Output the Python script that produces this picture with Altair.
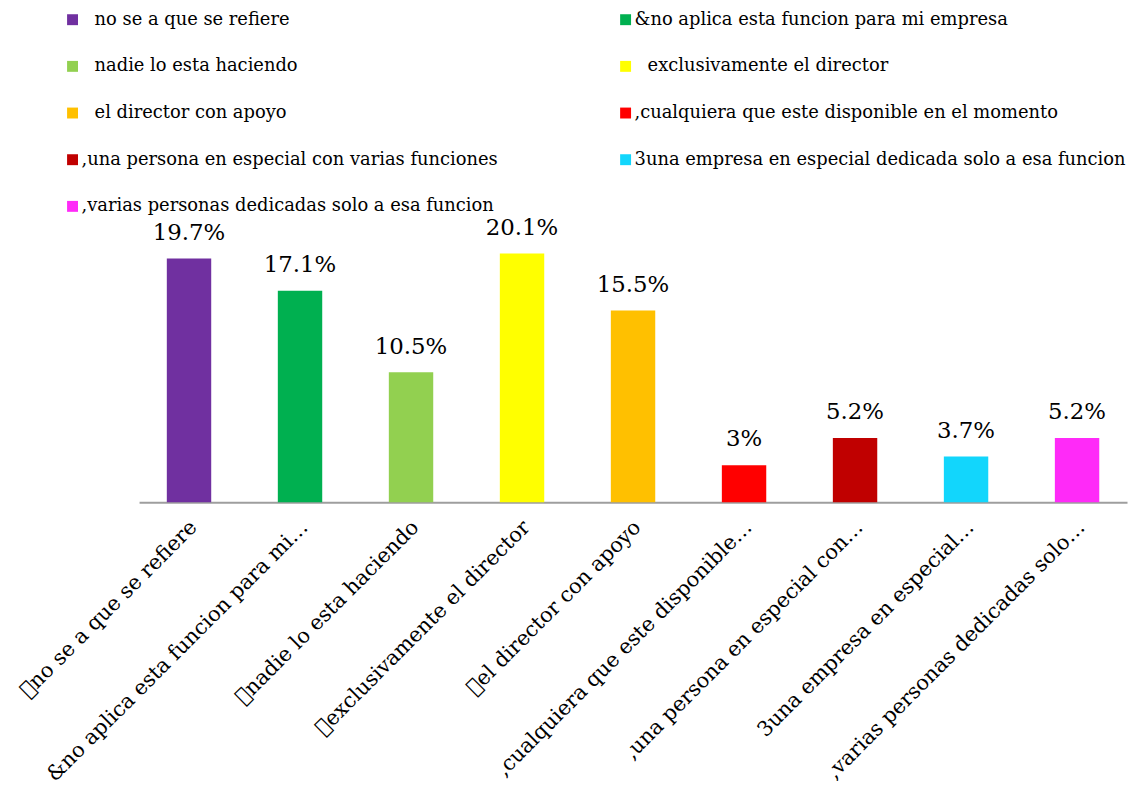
import altair as alt
import pandas as pd

axis_labels = [
    "\uf0b7no se a que se refiere",
    "&no aplica esta funcion para mi…",
    "\uf0b7nadie lo esta haciendo",
    "\uf0b7exclusivamente el director",
    "\uf0b7el director con apoyo",
    ",cualquiera que este disponible…",
    ",una persona en especial con…",
    "3una empresa en especial…",
    ",varias personas dedicadas solo…",
]
legend_labels = [
    "\u2800no se a que se refiere",
    "&no aplica esta funcion para mi empresa",
    "\u2800nadie lo esta haciendo",
    "\u2800exclusivamente el director",
    "\u2800el director con apoyo",
    ",cualquiera que este disponible en el momento",
    ",una persona en especial con varias funciones",
    "3una empresa en especial dedicada solo a esa funcion",
    ",varias personas dedicadas solo a esa funcion",
]
values = [19.7, 17.1, 10.5, 20.1, 15.5, 3.0, 5.2, 3.7, 5.2]
value_text = ["19.7%", "17.1%", "10.5%", "20.1%", "15.5%", "3%", "5.2%", "3.7%", "5.2%"]
colors = ["#7030A0", "#00B050", "#92D050", "#FFFF00", "#FFC000",
          "#FF0000", "#C00000", "#12D6FC", "#FF2AF8"]

df = pd.DataFrame({"cat": axis_labels, "leg": legend_labels, "val": values, "txt": value_text})

FONT = "DejaVu Serif"

x = alt.X(
    "cat:N", sort=axis_labels, title=None,
    scale=alt.Scale(paddingInner=0.6, paddingOuter=0.25),
    axis=alt.Axis(labelAngle=-45, labelFontSize=21, labelFont=FONT, labelColor="black",
                  ticks=False, domainColor="#9E9E9E", domainWidth=2, labelLimit=0,
                  labelPadding=14, labelOffset=-3),
)
y = alt.Y("val:Q", scale=alt.Scale(domain=[0, 24]), axis=None)

bars = alt.Chart(df).mark_bar().encode(
    x=x, y=y,
    color=alt.Color(
        "leg:N", sort=legend_labels,
        scale=alt.Scale(domain=legend_labels, range=colors),
        legend=alt.Legend(
            title=None, orient="none", legendX=-76, legendY=-196, columns=2,
            direction="horizontal",
            columnPadding=119, rowPadding=29, symbolType="square", symbolSize=121,
            symbolStrokeWidth=0, labelFont=FONT, labelFontSize=18, labelColor="black",
            labelLimit=0, labelOffset=0, padding=0,
        ),
    ),
)
text = alt.Chart(df).mark_text(baseline="bottom", dy=-14, fontSize=23, font=FONT, color="black").encode(
    x=alt.X("cat:N", sort=axis_labels), y=y, text="txt:N"
)

chart = (bars + text).properties(
    width=995, height=299,
    autosize=alt.AutoSizeParams(type="none"),
    padding={"left": 132, "top": 196, "right": 2, "bottom": 285},
).configure_view(stroke=None)

chart.save("out.html", embed_options={"renderer": "svg", "actions": False})
